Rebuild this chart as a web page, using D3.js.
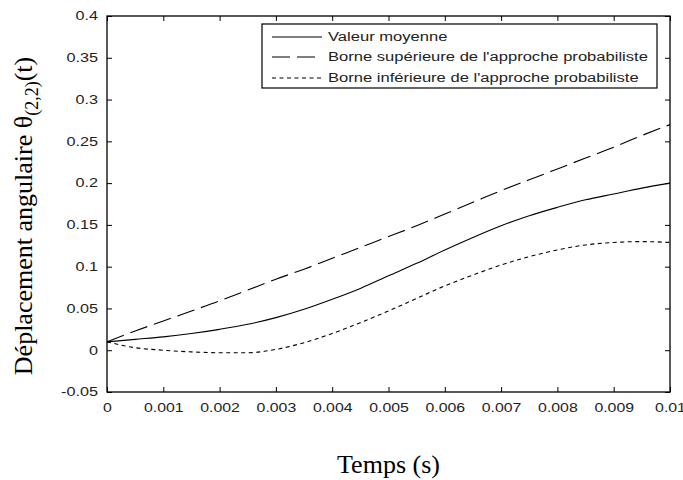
<!DOCTYPE html>
<html><head><meta charset="utf-8">
<script src="https://cdn.jsdelivr.net/npm/d3@7"></script>
<style>body{margin:0;background:#fff;}svg{display:block;}</style>
</head><body>
<svg id="chart" width="683" height="480"></svg>
<script>
const times = [0,0.0005,0.001,0.0015,0.002,0.0025,0.003,0.0035,0.004,0.0045,0.005,0.0055,0.006,0.0065,0.007,0.0075,0.008,0.0085,0.009,0.0095,0.01];
const meanValues  = [0.010,0.013,0.016,0.020,0.025,0.031,0.039,0.049,0.061,0.074,0.089,0.104,0.120,0.135,0.149,0.161,0.171,0.180,0.187,0.194,0.200];
const upperValues = [0.010,0.023,0.035,0.047,0.059,0.072,0.085,0.097,0.110,0.123,0.136,0.149,0.163,0.177,0.191,0.204,0.217,0.230,0.243,0.257,0.270];
const lowerValues = [0.010,0.003,0.000,-0.002,-0.003,-0.003,0.001,0.009,0.020,0.033,0.047,0.062,0.077,0.090,0.102,0.112,0.120,0.126,0.129,0.130,0.129];
const xTicks = [0,0.001,0.002,0.003,0.004,0.005,0.006,0.007,0.008,0.009,0.01];
const xTickLabels = ["0","0.001","0.002","0.003","0.004","0.005","0.006","0.007","0.008","0.009","0.01"];
const yTicks = [-0.05,0,0.05,0.1,0.15,0.2,0.25,0.3,0.35,0.4];
const yTickLabels = ["-0.05","0","0.05","0.1","0.15","0.2","0.25","0.3","0.35","0.4"];
const seriesNames = ["Valeur moyenne","Borne supérieure de l'approche probabiliste","Borne inférieure de l'approche probabiliste"];

const svg = d3.select("#chart");
const L = 107, R = 670, T = 16, B = 392;
const x = d3.scaleLinear().domain([0,0.01]).range([L,R]);
const y = d3.scaleLinear().domain([-0.05,0.4]).range([B,T]);
const tickFont = "'Liberation Sans', Arial, sans-serif";

function stretch(sel, k){
  sel.each(function(){
    const w = this.getComputedTextLength();
    d3.select(this).attr("textLength", w*k).attr("lengthAdjust","spacingAndGlyphs");
  });
}

// Axes (bottom, left) with inward ticks
const gx = svg.append("g").attr("transform",`translate(0,${B})`)
  .call(d3.axisBottom(x).tickValues(xTicks).tickFormat((d,i)=>xTickLabels[i]).tickSizeInner(-5).tickSizeOuter(0).tickPadding(11));
const gy = svg.append("g").attr("transform",`translate(${L},0)`)
  .call(d3.axisLeft(y).tickValues(yTicks).tickFormat((d,i)=>yTickLabels[i]).tickSizeInner(-5).tickSizeOuter(0).tickPadding(9));
const gt = svg.append("g").attr("transform",`translate(0,${T})`)
  .call(d3.axisTop(x).tickValues(xTicks).tickFormat("").tickSizeInner(-5).tickSizeOuter(0));
const gr = svg.append("g").attr("transform",`translate(${R},0)`)
  .call(d3.axisRight(y).tickValues(yTicks).tickFormat("").tickSizeInner(-5).tickSizeOuter(0));
[gx,gy,gt,gr].forEach(g=>{
  g.select(".domain").remove();
  g.selectAll("line").attr("stroke","#000").attr("stroke-width",1);
  g.selectAll("text").attr("font-family",tickFont).attr("font-size",12).attr("fill","#222");
});
stretch(gx.selectAll("text"),1.32);
stretch(gy.selectAll("text"),1.35);

// Frame
svg.append("rect").attr("x",L).attr("y",T).attr("width",R-L).attr("height",B-T)
  .attr("fill","none").attr("stroke","#000").attr("stroke-width",1.3);

// Lines
const styles = [
  {vals: meanValues, dash: null, w: 1.1},
  {vals: upperValues, dash: "18,7", w: 1.1},
  {vals: lowerValues, dash: "4,3.5", w: 1.1}
];
const line = d3.line().x(d=>x(d[0])).y(d=>y(d[1])).curve(d3.curveMonotoneX);
styles.forEach(s=>{
  svg.append("path").datum(times.map((t,i)=>[t,s.vals[i]]))
    .attr("d",line).attr("fill","none").attr("stroke","#000")
    .attr("stroke-width",s.w).attr("stroke-dasharray",s.dash);
});

// Legend
const lg = svg.append("g");
lg.append("rect").attr("x",262).attr("y",24).attr("width",395).attr("height",64)
  .attr("fill","#fff").attr("stroke","#000").attr("stroke-width",1.2);
const rowsY = [37,57,78];
seriesNames.forEach((n,i)=>{
  lg.append("line").attr("x1",272).attr("x2",322).attr("y1",rowsY[i]).attr("y2",rowsY[i])
    .attr("stroke","#000").attr("stroke-width",1.1).attr("stroke-dasharray",styles[i].dash);
  lg.append("text").attr("x",328).attr("y",rowsY[i]).attr("dy","0.36em")
    .attr("font-family",tickFont).attr("font-size",12).attr("fill","#222").text(n);
});
stretch(lg.selectAll("text"),1.38);

// Axis titles
svg.append("text").attr("x",(L+R)/2).attr("y",473).attr("text-anchor","middle")
  .attr("font-family","'Liberation Serif','Times New Roman',serif").attr("font-size",26).text("Temps (s)");
const yl = svg.append("text").attr("transform","translate(32,216) rotate(-90)").attr("text-anchor","middle")
  .attr("font-family","'Liberation Serif','Times New Roman',serif").attr("font-size",26);
yl.append("tspan").text("Déplacement angulaire θ");
yl.append("tspan").attr("font-size",18).attr("dy",6).text("(2,2)");
yl.append("tspan").attr("dy",-6).text("(t)");
</script>
</body></html>
